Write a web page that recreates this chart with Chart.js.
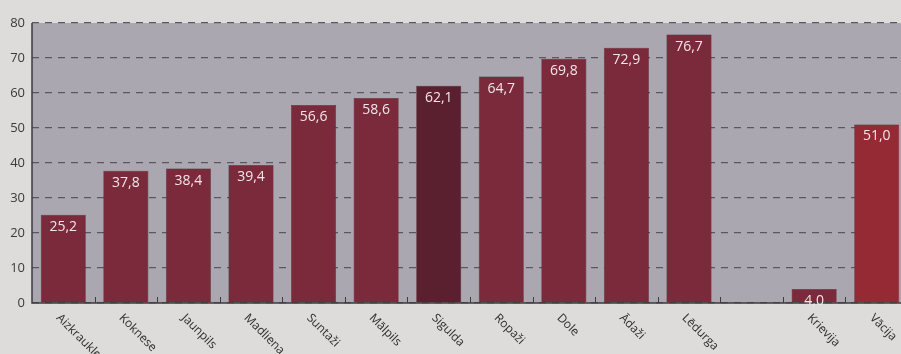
<!DOCTYPE html>
<html>
<head>
<meta charset="utf-8">
<script src="https://cdn.jsdelivr.net/npm/chart.js@4.4.1/dist/chart.umd.min.js"></script>
<style>
  html, body { margin: 0; padding: 0; background: #dddcda; overflow: hidden; }
  #wrap { width: 908px; height: 354px; }
</style>
</head>
<body>
<div id="wrap"><canvas id="barChart" width="908" height="354"></canvas></div>
<script>
// dati
const categories = ['Aizkraukle', 'Koknese', 'Jaunpils', 'Madliena', 'Suntaži', 'Mālpils', 'Sigulda', 'Ropaži', 'Dole', 'Ādaži', 'Lēdurga', '', 'Krievija', 'Vācija'];
const values = [25.2, 37.8, 38.4, 39.4, 56.6, 58.6, 62.1, 64.7, 69.8, 72.9, 76.7, null, 4.0, 51.0];
const yTicks = [0, 10, 20, 30, 40, 50, 60, 70, 80];

// krāsas
const barColors = categories.map(function(c) {
  if (c === 'Sigulda') return '#5a2030';
  if (c === 'Vācija') return '#962a34';
  return '#7a2a3a';
});

const font = '"Open Sans", "DejaVu Sans", sans-serif';

// fons, ass līnijas, atzīmes un uzraksti
const decor = {
  id: 'decor',
  beforeDraw(chart) {
    const { ctx, chartArea: a } = chart;
    ctx.save();
    ctx.fillStyle = '#aaa7b1';
    ctx.fillRect(a.left, a.top, a.right - a.left, a.bottom - a.top);
    ctx.restore();
  },
  afterDatasetsDraw(chart) {
    const { ctx, chartArea: a, scales } = chart;
    const x = scales.x;
    ctx.save();
    // asis
    ctx.strokeStyle = '#3e3a3e';
    ctx.lineWidth = 1.5;
    ctx.beginPath();
    ctx.moveTo(a.left, a.top);
    ctx.lineTo(a.left, a.bottom);
    ctx.lineTo(a.right, a.bottom);
    ctx.stroke();
    // atzīmes starp kategorijām
    ctx.lineWidth = 1;
    for (let i = 1; i < categories.length; i++) {
      const px = Math.round((x.getPixelForValue(i - 1) + x.getPixelForValue(i)) / 2) + 0.5;
      ctx.beginPath();
      ctx.moveTo(px, a.bottom);
      ctx.lineTo(px, a.bottom - 6);
      ctx.stroke();
    }
    // vērtības
    const meta = chart.getDatasetMeta(0);
    ctx.fillStyle = '#f1e6ea';
    ctx.font = '14px ' + font;
    ctx.textAlign = 'center';
    ctx.textBaseline = 'middle';
    meta.data.forEach(function(bar, i) {
      if (values[i] === null) return;
      ctx.fillText(values[i].toFixed(1).replace('.', ','), bar.x, bar.y + 12);
    });
    // kategoriju nosaukumi
    ctx.fillStyle = '#2e2e2e';
    ctx.font = '12px ' + font;
    ctx.textAlign = 'left';
    ctx.textBaseline = 'middle';
    categories.forEach(function(c, i) {
      if (!c) return;
      const px = x.getPixelForValue(i);
      ctx.save();
      ctx.translate(px - 5, a.bottom + 13);
      ctx.rotate(Math.PI / 4);
      ctx.fillText(c, 0, 0);
      ctx.restore();
    });
    ctx.restore();
  }
};

new Chart(document.getElementById('barChart').getContext('2d'), {
  type: 'bar',
  data: {
    labels: categories,
    datasets: [{
      data: values,
      backgroundColor: barColors,
      borderColor: '#4a1c26',
      borderWidth: 0.5,
      barPercentage: 0.72,
      categoryPercentage: 1
    }]
  },
  options: {
    responsive: false,
    animation: false,
    layout: { padding: { top: 23, right: 0, left: 0, bottom: 0 } },
    plugins: { legend: { display: false }, tooltip: { enabled: false } },
    scales: {
      x: {
        grid: { display: false },
        border: { display: false },
        ticks: { display: false },
        afterFit(scale) { scale.height = 51; }
      },
      y: {
        min: 0,
        max: 80,
        afterBuildTicks(scale) { scale.ticks = yTicks.map(v => ({ value: v })); },
        afterFit(scale) { scale.width = 32; },
        border: { display: false, dash: [7, 6] },
        grid: { color: '#5a575e', lineWidth: 1.2, tickLength: 0, drawTicks: false },
        ticks: { color: '#3a3a3a', font: { size: 13, family: font }, padding: 7 }
      }
    }
  },
  plugins: [decor]
});
</script>
</body>
</html>
